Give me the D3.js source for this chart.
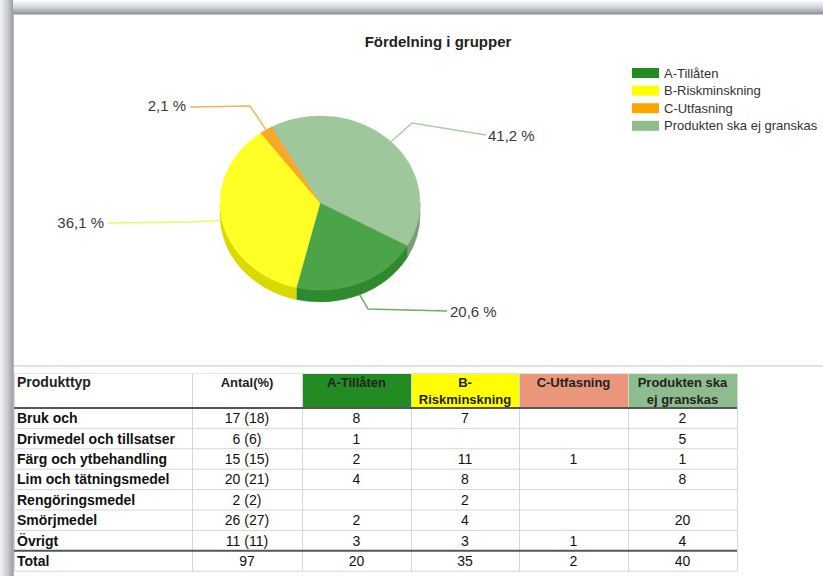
<!DOCTYPE html>
<html><head><meta charset="utf-8">
<script src="https://cdn.jsdelivr.net/npm/d3@7"></script>
<style>html,body{margin:0;padding:0;background:#fff;}svg{display:block;font-family:Arial,"Liberation Sans",sans-serif;}</style>
</head><body>
<svg id="c" width="823" height="576"></svg>
<script>
// ---------- DATA ----------
const title = "Fördelning i grupper";
const groups = ["A-Tillåten", "B-Riskminskning", "C-Utfasning", "Produkten ska ej granskas"];
const headerLabels = [["Produkttyp"], ["Antal(%)"], ["A-Tillåten"], ["B-", "Riskminskning"], ["C-Utfasning"], ["Produkten ska", "ej granskas"]];
const products = ["Bruk och", "Drivmedel och tillsatser", "Färg och ytbehandling", "Lim och tätningsmedel", "Rengöringsmedel", "Smörjmedel", "Övrigt"];
const antal = [17, 6, 15, 20, 2, 26, 11];
const antalPct = [18, 6, 15, 21, 2, 27, 11];
const valA = [8, 1, 2, 4, null, 2, 3];
const valB = [7, null, 11, 8, 2, 4, 3];
const valC = [null, null, 1, null, null, null, 1];
const valD = [2, 5, 1, 8, null, 20, 4];
const pieOrder = [3, 0, 1, 2]; // drawing order of groups around the pie

// ---------- STYLE / LAYOUT ----------
const legendColors = ["#228b22", "#ffff00", "#ffa500", "#8fbc8f"];
const topColors = ["#4ca44a", "#ffff26", "#f7a828", "#9ec89b"];
const sideColors = ["#2f8a2f", "#d9d900", "#d98a10", "#7f9a7d"];
const lineColors = ["#6aae68", "#f2f266", "#f5b45a", "#a9cfa6"];
const headerFill = [null, null, "#228b22", "#ffff00", "#e9967a", "#8fbc8f"];
// label layout: [elbowX, elbowY, lineEndX, lineEndY, textX, textY, anchor]
const labelLayout = {
  0: [368, 309, 447, 311, 450, 312, "start"],
  1: [193, 222, 108, 223, 104, 223, "end"],
  2: [250, 106, 190, 107, 186, 106, "end"],
  3: [412, 123, 486, 135, 488, 136, "start"]
};

const svg = d3.select("#c");
const defs = svg.append("defs");
const gTop = defs.append("linearGradient").attr("id", "shTop").attr("x1", 0).attr("y1", 0).attr("x2", 0).attr("y2", 1);
gTop.append("stop").attr("offset", "0").attr("stop-color", "#ffffff");
gTop.append("stop").attr("offset", "0.5").attr("stop-color", "#d4d6d9");
gTop.append("stop").attr("offset", "1").attr("stop-color", "#8c929a");
const gLeft = defs.append("linearGradient").attr("id", "shLeft").attr("x1", 0).attr("y1", 0).attr("x2", 1).attr("y2", 0);
gLeft.append("stop").attr("offset", "0").attr("stop-color", "#f2f2f2");
gLeft.append("stop").attr("offset", "0.6").attr("stop-color", "#c8cacc");
gLeft.append("stop").attr("offset", "1").attr("stop-color", "#9a9ea4");

svg.append("rect").attr("width", 823).attr("height", 576).attr("fill", "#fff");
svg.append("rect").attr("x", 0).attr("y", 0).attr("width", 823).attr("height", 14).attr("fill", "url(#shTop)");
svg.append("rect").attr("x", 0).attr("y", 0).attr("width", 13).attr("height", 576).attr("fill", "url(#shLeft)");
svg.append("line").attr("x1", 13.5).attr("x2", 13.5).attr("y1", 14).attr("y2", 576).attr("stroke", "#b4bac2").attr("stroke-width", 1);
svg.append("line").attr("x1", 13).attr("x2", 823).attr("y1", 14.5).attr("y2", 14.5).attr("stroke", "#c0c4ca").attr("stroke-width", 1);
// chart panel bottom border
svg.append("line").attr("x1", 14).attr("x2", 823).attr("y1", 366).attr("y2", 366).attr("stroke", "#e2e2e2").attr("stroke-width", 2);

// title
svg.append("text").attr("x", 438).attr("y", 47).attr("text-anchor", "middle")
  .attr("font-size", 15).attr("font-weight", "bold").attr("fill", "#222").text(title);

// ---------- PIE ----------
const totals = [valA, valB, valC, valD].map(a => d3.sum(a));
const grandTotal = d3.sum(antal);
const cx = 320, cy = 203, rx = 100, ry = 87, depth = 12;
const start = -29 * Math.PI / 180;
const pie = d3.pie().sort(null).value(i => totals[i]).startAngle(start).endAngle(start + 2 * Math.PI);
const arcs = pie(pieOrder);
const px = a => cx + rx * Math.sin(a);
const py = a => cy - ry * Math.cos(a);

const gPie = svg.append("g");
// sides (front half: angles between PI/2 and 3PI/2)
arcs.forEach(d => {
  const idx = d.data;
  // normalise to [0, 2PI)
  let a0 = d.startAngle, a1 = d.endAngle;
  const segs = [];
  for (let k = -1; k <= 1; k++) {
    const lo = Math.max(a0, Math.PI / 2 + 2 * Math.PI * k), hi = Math.min(a1, 3 * Math.PI / 2 + 2 * Math.PI * k);
    if (hi > lo) segs.push([lo, hi]);
  }
  segs.forEach(([s, e]) => {
    const path = `M${px(s)},${py(s)} A${rx},${ry} 0 0 1 ${px(e)},${py(e)} L${px(e)},${py(e) + depth} A${rx},${ry} 0 0 0 ${px(s)},${py(s) + depth} Z`;
    gPie.append("path").attr("d", path).attr("fill", sideColors[idx]).attr("stroke", sideColors[idx]).attr("stroke-width", 0.5);
  });
});
// tops
arcs.forEach(d => {
  const idx = d.data;
  const large = (d.endAngle - d.startAngle) > Math.PI ? 1 : 0;
  const path = `M${cx},${cy} L${px(d.startAngle)},${py(d.startAngle)} A${rx},${ry} 0 ${large} 1 ${px(d.endAngle)},${py(d.endAngle)} Z`;
  gPie.append("path").attr("d", path).attr("fill", topColors[idx]).attr("stroke", topColors[idx]).attr("stroke-width", 0.5);
});

// labels
arcs.forEach(d => {
  const idx = d.data;
  const m = (d.startAngle + d.endAngle) / 2;
  const front = Math.cos(m) < 0 && Math.abs(Math.sin(m)) < 0.7;
  const sx = px(m), sy = py(m) + (front ? depth : 0);
  const L = labelLayout[idx];
  svg.append("polyline").attr("points", `${sx},${sy} ${L[0]},${L[1]} ${L[2]},${L[3]}`)
    .attr("fill", "none").attr("stroke", lineColors[idx]).attr("stroke-width", 1.5);
  const pct = (totals[idx] / grandTotal * 100).toFixed(1).replace(".", ",") + " %";
  svg.append("text").attr("x", L[4]).attr("y", L[5]).attr("dy", "0.35em").attr("text-anchor", L[6])
    .attr("font-size", 15).attr("fill", "#3a3a3a").text(pct);
});

// legend
const lg = svg.append("g").attr("transform", "translate(632,68)");
groups.forEach((g, i) => {
  lg.append("rect").attr("x", 0).attr("y", i * 17.6).attr("width", 27).attr("height", 10).attr("fill", legendColors[i]);
  lg.append("text").attr("x", 32).attr("y", i * 17.6 + 5).attr("dy", "0.35em").attr("font-size", 13).attr("fill", "#333").text(g);
});

// ---------- TABLE ----------
const colX = [14, 192, 302, 411, 519, 628, 737];
const headTop = 374, headBot = 408, rowH = 20.4;
const nRows = products.length + 1;
const yRow = d3.scaleLinear().domain([0, nRows]).range([headBot, headBot + rowH * nRows]);
const tb = svg.append("g");

// header fills
headerLabels.forEach((h, c) => {
  if (headerFill[c]) tb.append("rect").attr("x", colX[c] + 1).attr("y", headTop).attr("width", colX[c + 1] - colX[c] - 1).attr("height", headBot - headTop).attr("fill", headerFill[c]);
});
// grid
const gridC = "#d6d6d6";
for (let r = 0; r <= nRows; r++) {
  if (r === 0 || r === nRows - 1) continue;
  tb.append("line").attr("x1", colX[0]).attr("x2", colX[6]).attr("y1", yRow(r)).attr("y2", yRow(r)).attr("stroke", gridC).attr("stroke-width", 1);
}
tb.append("line").attr("x1", colX[0]).attr("x2", colX[6]).attr("y1", headTop - 0.5).attr("y2", headTop - 0.5).attr("stroke", "#e4e4e4").attr("stroke-width", 1);
colX.forEach(x => tb.append("line").attr("x1", x + 0.5).attr("x2", x + 0.5).attr("y1", headTop).attr("y2", yRow(nRows)).attr("stroke", gridC).attr("stroke-width", 1));
tb.append("line").attr("x1", colX[0]).attr("x2", colX[6]).attr("y1", yRow(0)).attr("y2", yRow(0)).attr("stroke", "#555").attr("stroke-width", 2);
tb.append("line").attr("x1", colX[0]).attr("x2", colX[6]).attr("y1", yRow(nRows - 1)).attr("y2", yRow(nRows - 1)).attr("stroke", "#555").attr("stroke-width", 2);

// header text
headerLabels.forEach((h, c) => {
  h.forEach((t, j) => {
    const isFirst = c === 0;
    tb.append("text").attr("x", isFirst ? colX[0] + 3 : (colX[c] + colX[c + 1]) / 2)
      .attr("y", headTop + 13 + j * 17).attr("text-anchor", isFirst ? "start" : "middle")
      .attr("font-size", isFirst ? 14 : 13).attr("font-weight", "bold").attr("fill", "#222").text(t);
  });
});

// body
const cols = [valA, valB, valC, valD];
const fmt = v => (v === null || v === undefined) ? "" : String(v);
const rows = products.map((p, i) => [p, `${antal[i]} (${antalPct[i]})`, ...cols.map(a => fmt(a[i]))]);
rows.push(["Total", String(grandTotal), ...totals.map(String)]);
rows.forEach((r, ri) => {
  const y = (yRow(ri) + yRow(ri + 1)) / 2;
  r.forEach((t, c) => {
    if (!t) return;
    tb.append("text").attr("x", c === 0 ? colX[0] + 3 : (colX[c] + colX[c + 1]) / 2).attr("y", y).attr("dy", "0.36em")
      .attr("text-anchor", c === 0 ? "start" : "middle").attr("font-size", 14)
      .attr("font-weight", c === 0 ? "bold" : "normal").attr("fill", "#111").text(t);
  });
});
</script>
</body></html>
